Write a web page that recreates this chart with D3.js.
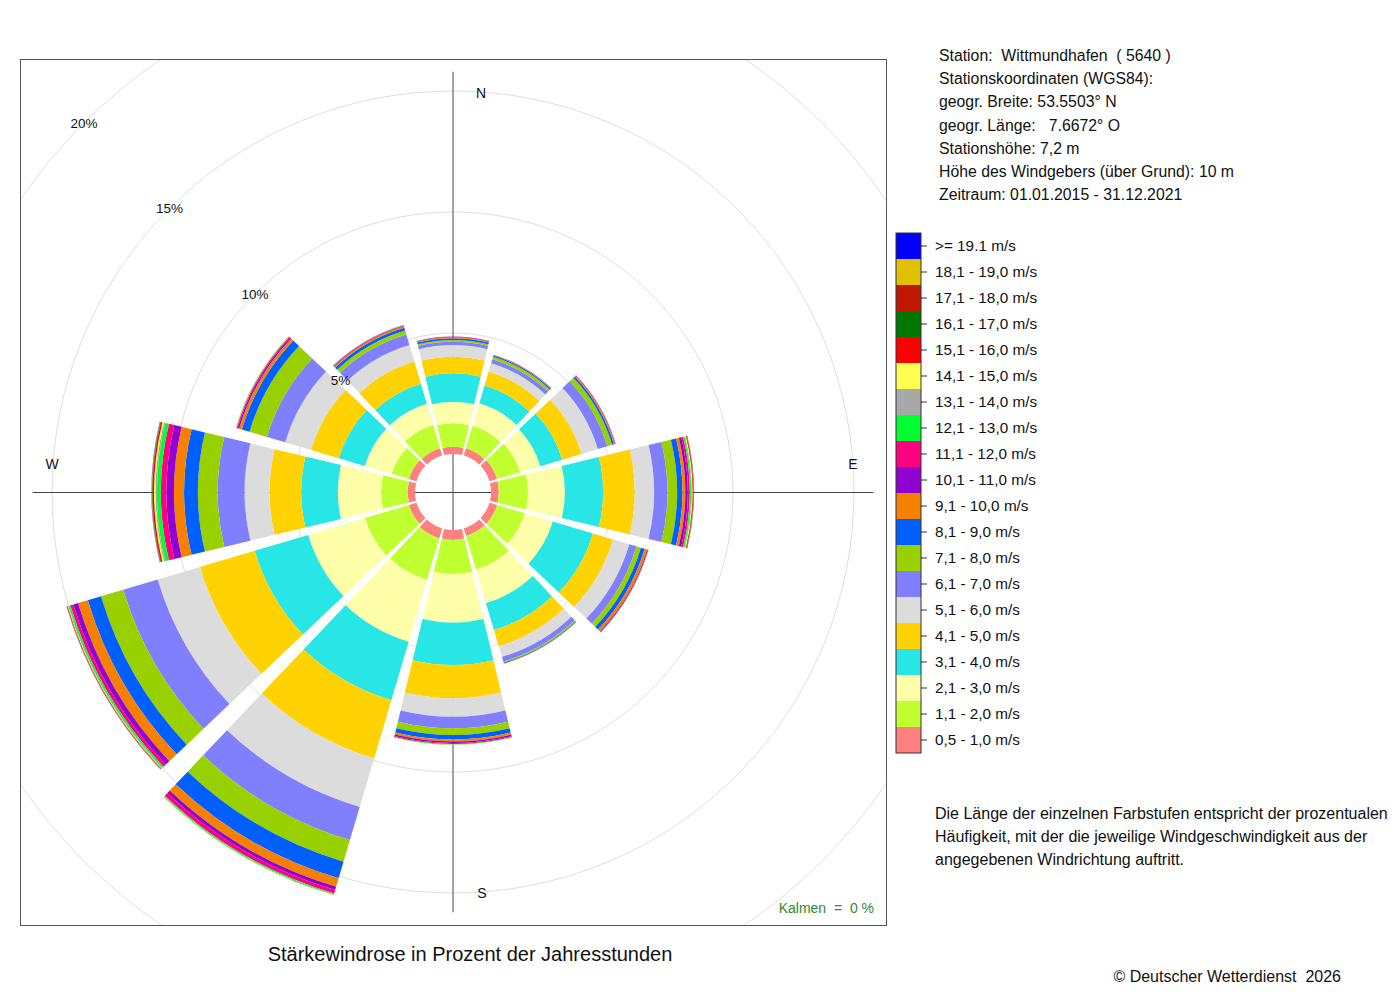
<!DOCTYPE html>
<html>
<head>
<meta charset="utf-8">
<script src="https://cdn.jsdelivr.net/npm/d3@7"></script>
<style>
  body { margin: 0; background: #fff; }
  text { font-family: "Liberation Sans", Arial, Helvetica, sans-serif; fill: #111; white-space: pre; }
</style>
</head>
<body>
<svg id="chart" width="1400" height="1000"></svg>
<script>
// Wind directions (sector centres, degrees clockwise from north)
var dirs = [0, 30, 60, 90, 120, 150, 180, 210, 240, 270, 300, 330];

// Speed classes, slowest first
var classes = ["0,5 - 1,0 m/s", "1,1 - 2,0 m/s", "2,1 - 3,0 m/s", "3,1 - 4,0 m/s",
  "4,1 - 5,0 m/s", "5,1 - 6,0 m/s", "6,1 - 7,0 m/s", "7,1 - 8,0 m/s", "8,1 - 9,0 m/s",
  "9,1 - 10,0 m/s", "10,1 - 11,0 m/s", "11,1 - 12,0 m/s", "12,1 - 13,0 m/s",
  "13,1 - 14,0 m/s", "14,1 - 15,0 m/s", "15,1 - 16,0 m/s", "16,1 - 17,0 m/s",
  "17,1 - 18,0 m/s", "18,1 - 19,0 m/s", ">= 19.1 m/s"];

var colors = ["#ff8080", "#c0ff30", "#ffffaa", "#28e6e6", "#ffd200", "#dcdcdc",
  "#8080ff", "#98d000", "#0060ff", "#f88000", "#9000d0", "#ff0080", "#00ff30",
  "#a8a8a8", "#ffff50", "#ff0000", "#007800", "#c01800", "#e0c000", "#0000ff"];

// Percent of hours per speed class, one array per direction
var pct000 = [0.30, 0.97, 0.89, 1.17, 0.69, 0.48, 0.14, 0.07, 0.07, 0.04, 0.02, 0.01, 0.005, 0, 0, 0, 0, 0, 0, 0];
var pct030 = [0.31, 0.97, 0.97, 0.77, 0.60, 0.36, 0.17, 0.11, 0.05, 0.02, 0.01, 0.005, 0.005, 0, 0, 0, 0, 0, 0, 0];
var pct060 = [0.33, 0.99, 0.87, 0.95, 0.83, 0.70, 0.41, 0.21, 0.08, 0.04, 0.02, 0.01, 0.005, 0, 0, 0, 0, 0, 0, 0];
var pct090 = [0.32, 1.21, 1.52, 1.58, 1.31, 0.80, 0.55, 0.40, 0.22, 0.12, 0.10, 0.08, 0.06, 0.03, 0.03, 0.03, 0.01, 0.01, 0.005, 0.005];
var pct120 = [0.33, 1.20, 1.20, 1.73, 0.87, 0.70, 0.31, 0.19, 0.16, 0.11, 0.03, 0.02, 0.01, 0.005, 0, 0, 0, 0, 0, 0];
var pct150 = [0.33, 1.45, 1.44, 1.16, 0.70, 0.46, 0.20, 0.05, 0.03, 0.01, 0.005, 0, 0, 0, 0, 0, 0, 0, 0, 0];
var pct180 = [0.41, 1.41, 2.01, 1.75, 1.37, 0.76, 0.48, 0.28, 0.18, 0.09, 0.06, 0.04, 0.02, 0.01, 0.01, 0.005, 0, 0, 0, 0];
var pct210 = [0.43, 1.79, 2.66, 2.52, 2.51, 2.09, 1.43, 0.93, 0.72, 0.36, 0.14, 0.15, 0.04, 0.01, 0.01, 0.005, 0.005, 0, 0, 0];
var pct240 = [0.33, 1.90, 2.44, 2.31, 2.36, 1.82, 1.48, 0.96, 0.57, 0.42, 0.20, 0.13, 0.07, 0.03, 0.02, 0.02, 0.01, 0.01, 0.005, 0.005];
var pct270 = [0.30, 1.10, 1.79, 1.51, 1.31, 1.03, 1.11, 0.82, 0.57, 0.42, 0.31, 0.23, 0.16, 0.06, 0.06, 0.06, 0.02, 0.01, 0.01, 0.01];
var pct300 = [0.33, 0.74, 1.16, 1.12, 1.20, 1.11, 0.79, 0.75, 0.33, 0.12, 0.06, 0.04, 0.02, 0.01, 0.01, 0.005, 0, 0, 0, 0];
var pct330 = [0.31, 1.01, 0.91, 0.87, 0.95, 0.72, 0.45, 0.17, 0.12, 0.06, 0.03, 0.02, 0.01, 0.01, 0, 0, 0, 0, 0, 0];
var sectors = [pct000, pct030, pct060, pct090, pct120, pct150, pct180, pct210, pct240, pct270, pct300, pct330];

// Grid rings and labels
var rings = [5, 10, 15, 20];
var ringLabels = ["5%", "10%", "15%", "20%"];
var compass = ["N", "E", "S", "W"];

var stationLines = ["Station:  Wittmundhafen  ( 5640 )", "Stationskoordinaten (WGS84):",
  "geogr. Breite: 53.5503° N", "geogr. Länge:   7.6672° O", "Stationshöhe: 7,2 m",
  "Höhe des Windgebers (über Grund): 10 m", "Zeitraum: 01.01.2015 - 31.12.2021"];
var noteLines = ["Die Länge der einzelnen Farbstufen entspricht der prozentualen",
  "Häufigkeit, mit der die jeweilige Windgeschwindigkeit aus der",
  "angegebenen Windrichtung auftritt."];
var calm = 0;

var svg = d3.select("#chart");

// Plot frame
var frame = {x: 20, y: 59, size: 866};
var cx = frame.x + frame.size / 2, cy = frame.y + frame.size / 2;

var r = d3.scaleLinear().domain([0, 20]).range([38, 522]);
var halfWidth = 13.5 * Math.PI / 180;
var toRad = function(d) { return d * Math.PI / 180; };

svg.append("clipPath").attr("id", "frameClipLocal")
    .append("rect")
    .attr("x", frame.x - cx).attr("y", frame.y - cy)
    .attr("width", frame.size).attr("height", frame.size);

var plot = svg.append("g")
    .attr("transform", "translate(" + cx + "," + cy + ")");

// grid circles, clipped to the frame
plot.append("g")
    .attr("clip-path", "url(#frameClipLocal)")
    .selectAll("circle")
    .data(rings)
    .enter()
    .append("circle")
    .attr("r", function(d) { return r(d); })
    .attr("fill", "none")
    .attr("stroke", "#dedede")
    .attr("stroke-width", 1);

// axes through the centre
var axisLen = r(15.8);
plot.append("line")
    .attr("x1", 0).attr("x2", 0)
    .attr("y1", -axisLen).attr("y2", axisLen)
    .attr("stroke", "#8c8c8c").attr("stroke-width", 1.6);
plot.append("line")
    .attr("x1", -axisLen).attr("x2", axisLen)
    .attr("y1", 0.5).attr("y2", 0.5)
    .attr("stroke", "#444").attr("stroke-width", 1);

// stacked sectors
var arc = d3.arc();
var groups = plot.selectAll("g.sector")
    .data(dirs)
    .enter()
    .append("g")
    .attr("class", "sector");

groups.selectAll("path")
    .data(function(d, i) {
        var cum = 0;
        return sectors[i].map(function(v, k) {
            var seg = {dir: d, k: k, r0: cum, r1: cum + v};
            cum += v;
            return seg;
        }).filter(function(s) { return s.r1 > s.r0; });
    })
    .enter()
    .append("path")
    .attr("d", function(s) {
        return arc({
            innerRadius: r(s.r0),
            outerRadius: r(s.r1),
            startAngle: toRad(s.dir) - halfWidth,
            endAngle: toRad(s.dir) + halfWidth
        });
    })
    .attr("fill", function(s) { return colors[s.k]; });

// ring labels along the NW diagonal
plot.selectAll("text.ring")
    .data(rings)
    .enter()
    .append("text")
    .attr("class", "ring")
    .attr("x", function(d) { return -r(d) * Math.SQRT1_2; })
    .attr("y", function(d) { return -r(d) * Math.SQRT1_2 + 5; })
    .attr("text-anchor", "middle")
    .attr("font-size", "13.5px")
    .text(function(d, i) { return ringLabels[i]; });

// compass letters
var rc = r(15);
var compassPos = {
    N: [28, -rc + 7],
    E: [rc - 1, -23],
    S: [29, rc + 5],
    W: [-rc, -23]
};
plot.selectAll("text.compass")
    .data(compass)
    .enter()
    .append("text")
    .attr("class", "compass")
    .attr("x", function(d) { return compassPos[d][0]; })
    .attr("y", function(d) { return compassPos[d][1]; })
    .attr("text-anchor", "middle")
    .attr("font-size", "14px")
    .text(function(d) { return d; });

// frame on top
svg.append("rect")
    .attr("x", frame.x + 0.5).attr("y", frame.y + 0.5)
    .attr("width", frame.size).attr("height", frame.size)
    .attr("fill", "none")
    .attr("stroke", "#555").attr("stroke-width", 1);

svg.append("text")
    .attr("x", frame.x + frame.size - 12)
    .attr("y", frame.y + frame.size - 12)
    .attr("text-anchor", "end")
    .attr("font-size", "14px")
    .style("fill", "#2e8b2e")
    .text("Kalmen  =  " + calm + " %");

svg.append("text")
    .attr("x", 470).attr("y", 961)
    .attr("text-anchor", "middle")
    .attr("font-size", "20px")
    .text("Stärkewindrose in Prozent der Jahresstunden");

svg.append("text")
    .attr("x", 1341).attr("y", 982)
    .attr("text-anchor", "end")
    .attr("font-size", "16px")
    .text("© Deutscher Wetterdienst  2026");

// station info
svg.append("g").selectAll("text")
    .data(stationLines)
    .enter()
    .append("text")
    .attr("x", 939)
    .attr("y", function(d, i) { return 61 + i * 23.2; })
    .attr("font-size", "15.8px")
    .text(function(d) { return d; });

// legend
var legendY = d3.scaleBand()
    .domain(classes.slice().reverse())
    .range([233, 753]);
var legend = svg.append("g");
legend.selectAll("rect")
    .data(classes)
    .enter()
    .append("rect")
    .attr("x", 896)
    .attr("y", function(d) { return legendY(d); })
    .attr("width", 25)
    .attr("height", legendY.bandwidth())
    .attr("fill", function(d, i) { return colors[i]; });
legend.append("rect")
    .attr("x", 896).attr("y", 233)
    .attr("width", 25).attr("height", 520)
    .attr("fill", "none").attr("stroke", "#333").attr("stroke-width", 1);
legend.selectAll("line")
    .data(classes)
    .enter()
    .append("line")
    .attr("x1", 921).attr("x2", 927)
    .attr("y1", function(d) { return legendY(d) + legendY.bandwidth() / 2; })
    .attr("y2", function(d) { return legendY(d) + legendY.bandwidth() / 2; })
    .attr("stroke", "#333");
legend.selectAll("text")
    .data(classes)
    .enter()
    .append("text")
    .attr("x", 935)
    .attr("y", function(d) { return legendY(d) + legendY.bandwidth() / 2 + 5; })
    .attr("font-size", "15.3px")
    .text(function(d) { return d; });

// explanation
svg.append("g").selectAll("text")
    .data(noteLines)
    .enter()
    .append("text")
    .attr("x", 935)
    .attr("y", function(d, i) { return 819 + i * 23.2; })
    .attr("font-size", "16px")
    .text(function(d) { return d; });
</script>
</body>
</html>
